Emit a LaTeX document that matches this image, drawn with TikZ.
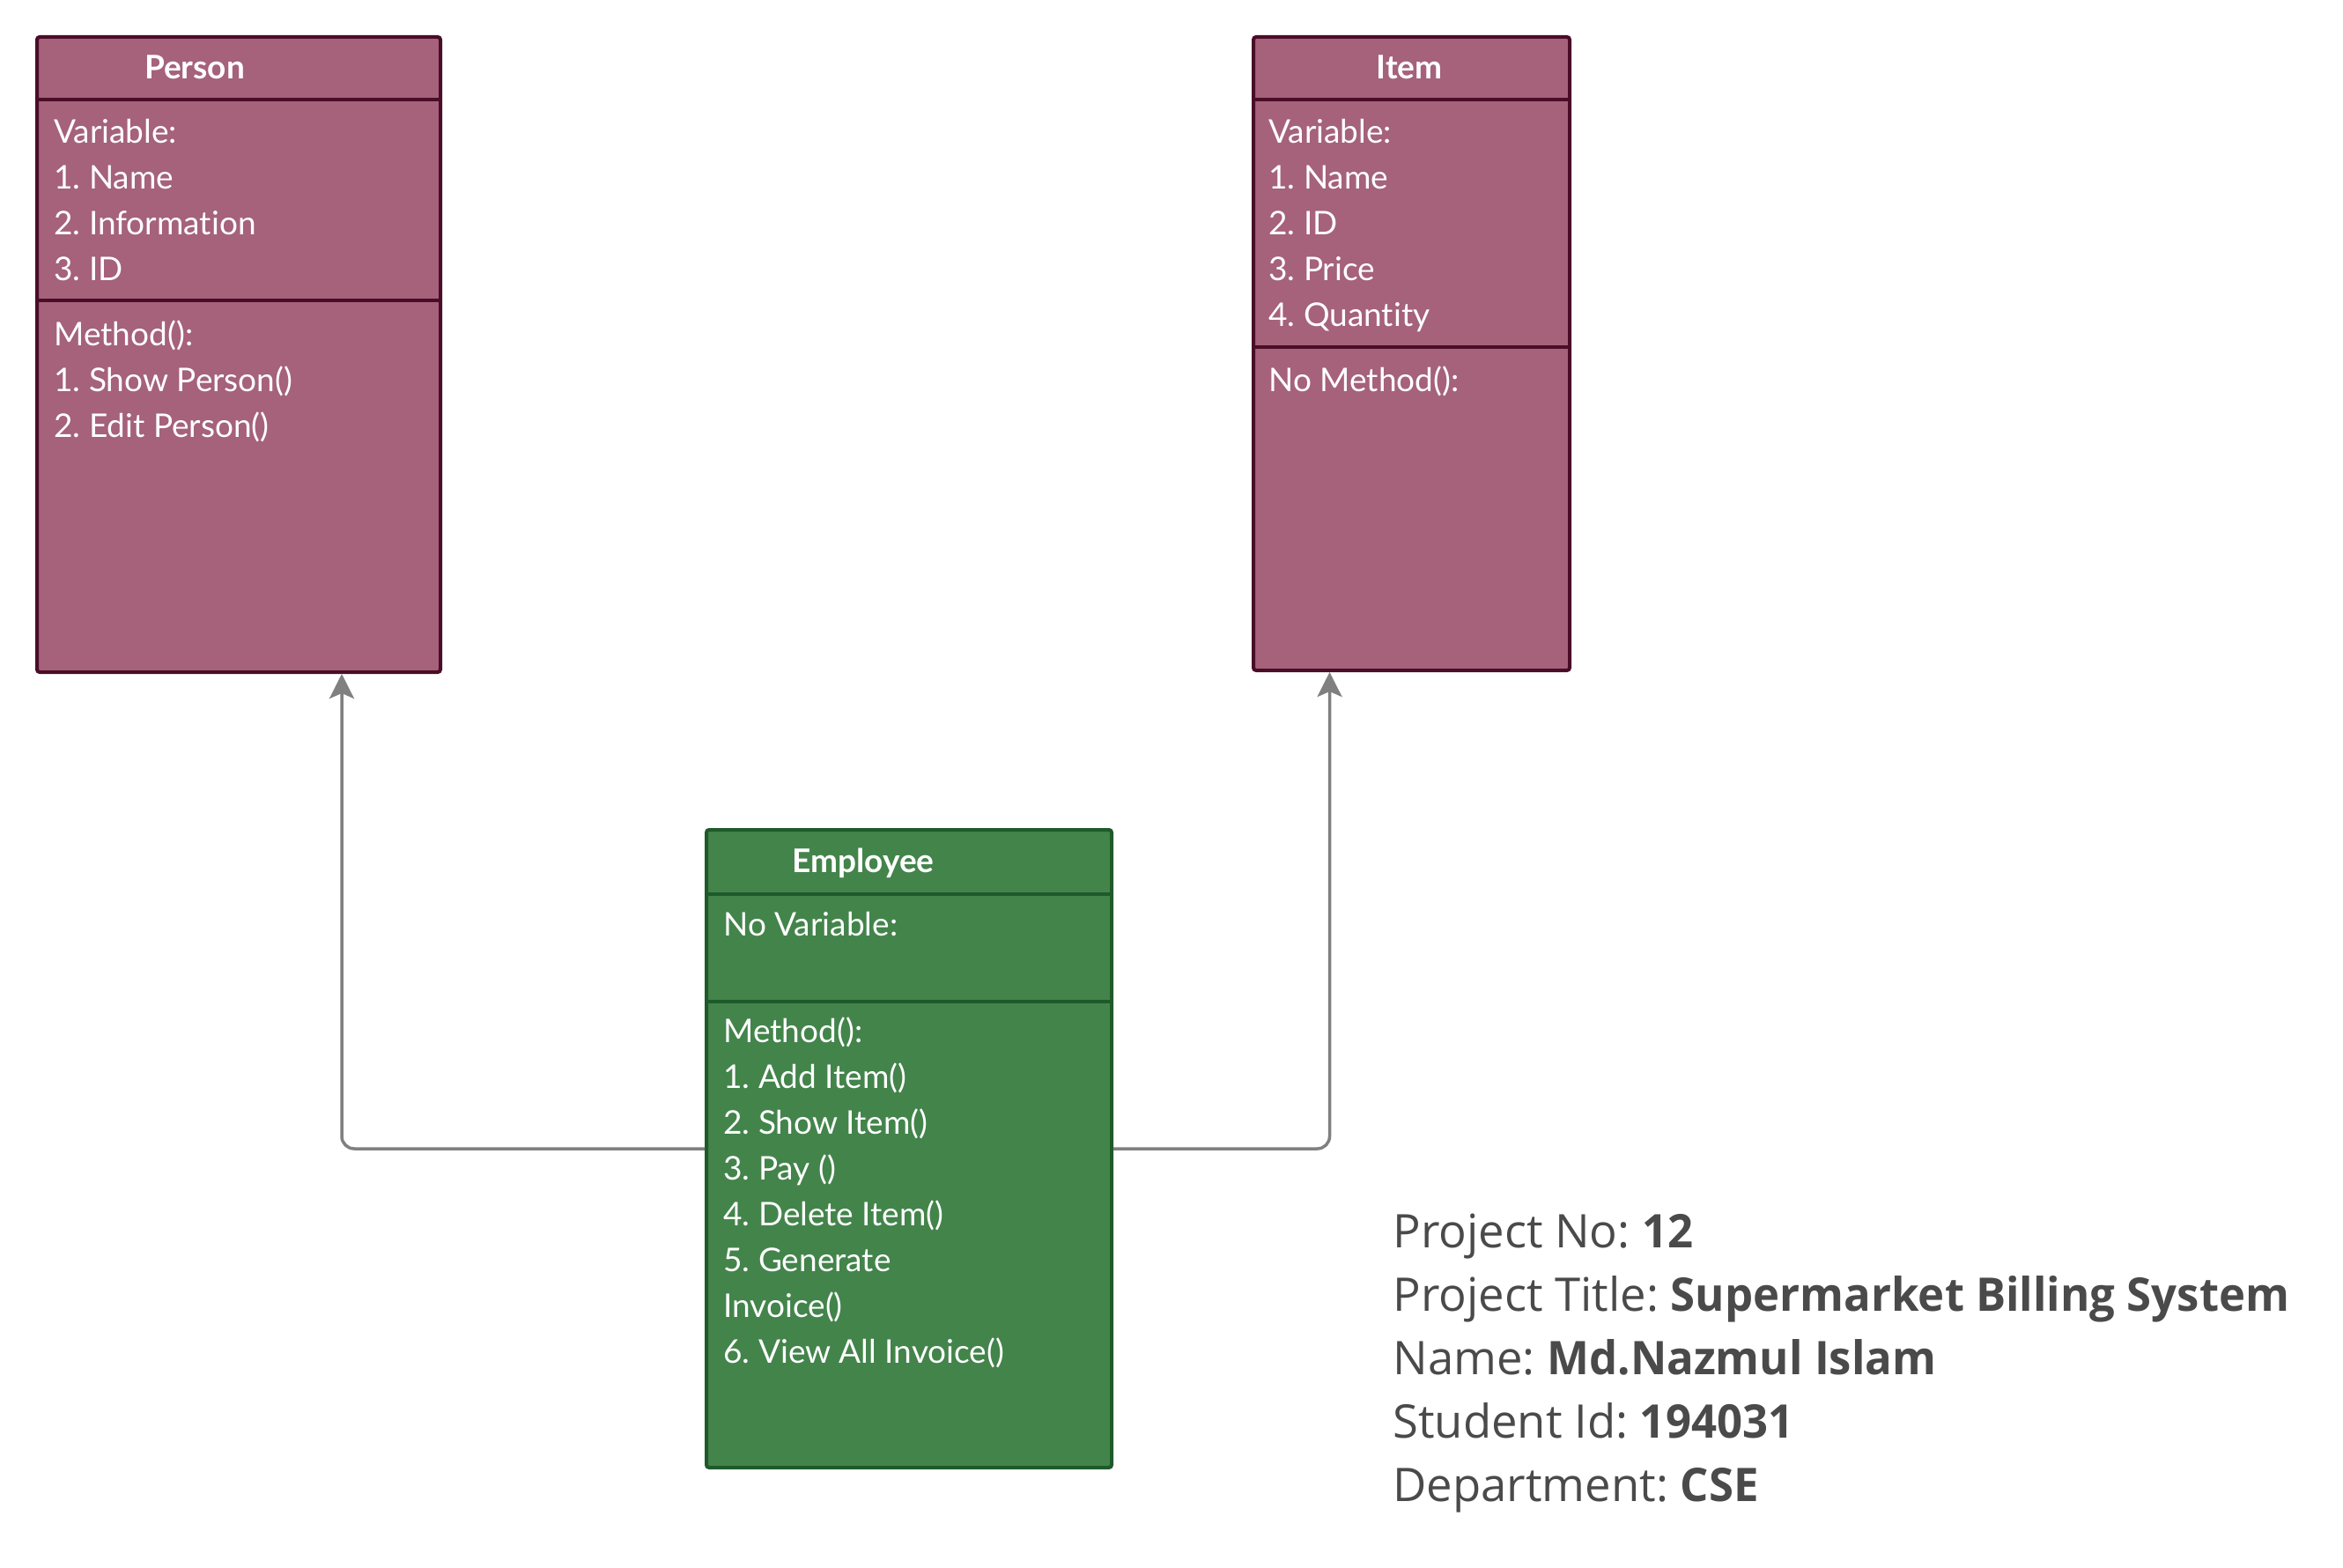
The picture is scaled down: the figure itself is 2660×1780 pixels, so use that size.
\documentclass[tikz,border=0pt]{standalone}
\usepackage{fontspec}
\setmainfont{Lato}[Ligatures=NoCommon]
\newfontfamily\infofont{Open Sans}[BoldFeatures={FakeStretch=0.967}]
\usetikzlibrary{arrows.meta}
\definecolor{plum}{HTML}{A5627A}
\definecolor{plumline}{HTML}{4A0D28}
\definecolor{leaf}{HTML}{43844B}
\definecolor{leafline}{HTML}{1E5A2A}
\definecolor{wire}{HTML}{808080}
\definecolor{ink}{HTML}{4A4A4A}
\frenchspacing

\begin{document}
\begin{tikzpicture}[x=0.5pt,y=-0.5pt,
  classbox/.style={draw=#1line, fill=#1, line width=2pt, rounded corners=1.5pt,
    inner sep=0pt, anchor=north west},
  divider/.style={draw=#1, line width=2pt},
  title/.style={anchor=base, inner sep=0pt, text=white, font=\bfseries\fontsize{18.5}{22}\selectfont},
  member/.style={anchor=base west, inner sep=0pt, text=white, font=\fontsize{18.5}{26}\selectfont},
  info/.style={anchor=base west, inner sep=0pt, text=ink, font=\infofont\fontsize{26.3}{36}\selectfont},
  link/.style={draw=wire, line width=1.75pt, rounded corners=7pt,
    -{Stealth[length=14pt,width=14pt,inset=3pt]}}]
\useasboundingbox (0,0) rectangle (2660,1780);

% class boxes
\node[classbox=plum, minimum width=229pt, minimum height=360.5pt] (person) at (40,40) {};
\node[classbox=plum, minimum width=179.5pt, minimum height=359.5pt] (item) at (1421,40) {};
\node[classbox=leaf, minimum width=230pt, minimum height=362pt] (employee) at (800,940) {};

\draw[divider=plumline] ([yshift=-36.5pt]person.north west) -- ([yshift=-36.5pt]person.north east);
\draw[divider=plumline] ([yshift=-150.5pt]person.north west) -- ([yshift=-150.5pt]person.north east);
\draw[divider=plumline] ([yshift=-36.5pt]item.north west) -- ([yshift=-36.5pt]item.north east);
\draw[divider=plumline] ([yshift=-177pt]item.north west) -- ([yshift=-177pt]item.north east);
\draw[divider=leafline] ([yshift=-37.5pt]employee.north west) -- ([yshift=-37.5pt]employee.north east);
\draw[divider=leafline] ([yshift=-98.5pt]employee.north west) -- ([yshift=-98.5pt]employee.north east);

% titles
\node[title] (person-t) at (221,90) {Person};
\node[title] (item-t) at (1600,90) {Item};
\node[title] (employee-t) at (980,990) {Employee};

% members
\foreach \t [count=\i from 0] in {Variable:, 1. Name, 2. Information, 3. ID}
  \node[member] (person-v\i) at (61,163+52*\i) {\t};
\foreach \t [count=\i from 0] in {Method():, 1. Show Person(), 2. Edit Person()}
  \node[member] (person-m\i) at (61,393+52*\i) {\t};
\foreach \t [count=\i from 0] in {Variable:, 1. Name, 2. ID, 3. Price, 4. Quantity}
  \node[member] (item-v\i) at (1440,163+52*\i) {\t};
\node[member] (item-m0) at (1440,445) {No Method():};
\node[member] (employee-v0) at (821,1062) {No Variable:};
\foreach \t [count=\i from 0] in {Method():, 1. Add Item(), 2. Show Item(), 3. Pay (),
    4. Delete Item(), 5. Generate, Invoice(), 6. View All Invoice()}
  \node[member] (employee-m\i) at (821,1183+52*\i) {\t};

% connectors
\draw[link] (employee.west) -| ([xshift=58.5pt]person.south);
\draw[link] (employee.east) -| ([xshift=-46.5pt]item.south);

% project details
\foreach \k/\v [count=\i from 0] in {Project No/12, Project Title/Supermarket Billing System,
    Name/Md.Nazmul Islam, Student Id/194031, Department/CSE}
  \node[info] (info\i) at (1581,1416+72*\i) {\k: \textbf{\v}};
\end{tikzpicture}
\end{document}
